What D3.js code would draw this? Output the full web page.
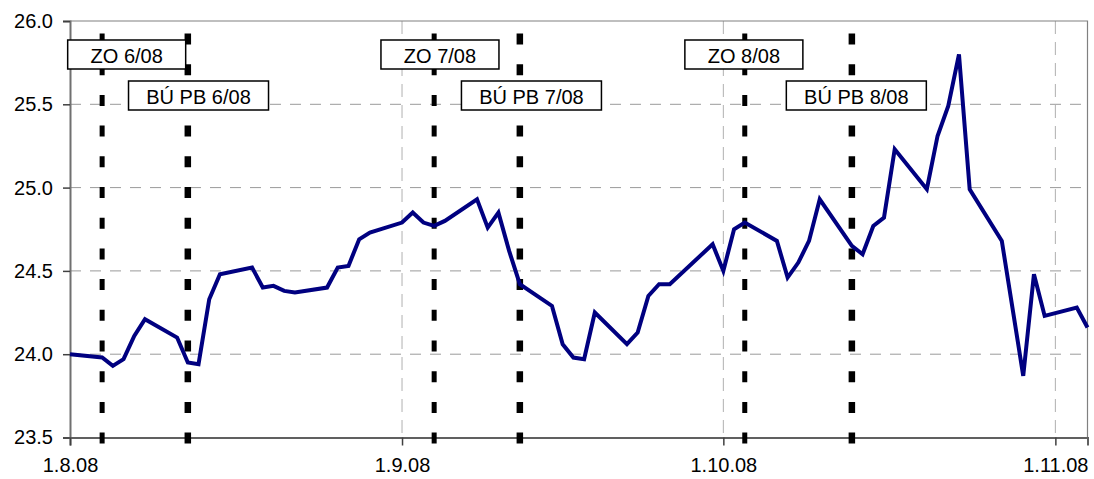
<!DOCTYPE html>
<html>
<head>
<meta charset="utf-8">
<script src="https://cdn.jsdelivr.net/npm/d3@7"></script>
<style>
  html, body { margin: 0; padding: 0; background: #fff; }
  svg { display: block; }
  text { font-family: "Liberation Sans", Arial, sans-serif; }
</style>
</head>
<body>
<svg id="chart" width="1094" height="479"></svg>
<script>
// ---- data ----
const dates = [
  "2008-08-01","2008-08-04","2008-08-05","2008-08-06","2008-08-07","2008-08-08",
  "2008-08-11","2008-08-12","2008-08-13","2008-08-14","2008-08-15",
  "2008-08-18","2008-08-19","2008-08-20","2008-08-21","2008-08-22",
  "2008-08-25","2008-08-26","2008-08-27","2008-08-28","2008-08-29",
  "2008-09-01","2008-09-02","2008-09-03","2008-09-04","2008-09-05",
  "2008-09-08","2008-09-09","2008-09-10","2008-09-11","2008-09-12",
  "2008-09-15","2008-09-16","2008-09-17","2008-09-18","2008-09-19",
  "2008-09-22","2008-09-23","2008-09-24","2008-09-25","2008-09-26",
  "2008-09-30","2008-10-01","2008-10-02","2008-10-03",
  "2008-10-06","2008-10-07","2008-10-08","2008-10-09","2008-10-10",
  "2008-10-13","2008-10-14","2008-10-15","2008-10-16","2008-10-17",
  "2008-10-20","2008-10-21","2008-10-22","2008-10-23","2008-10-24",
  "2008-10-27","2008-10-29","2008-10-30","2008-10-31",
  "2008-11-03","2008-11-04"
];
const values = [
  24.00, 23.98, 23.93, 23.97, 24.11, 24.21,
  24.10, 23.95, 23.94, 24.33, 24.48,
  24.52, 24.40, 24.41, 24.38, 24.37,
  24.40, 24.52, 24.53, 24.69, 24.73,
  24.79, 24.85, 24.79, 24.77, 24.80,
  24.93, 24.76, 24.85, 24.62, 24.42,
  24.29, 24.06, 23.98, 23.97, 24.25,
  24.06, 24.13, 24.35, 24.42, 24.42,
  24.66, 24.50, 24.75, 24.79,
  24.68, 24.46, 24.55, 24.68, 24.93,
  24.65, 24.60, 24.77, 24.82, 25.23,
  24.99, 25.31, 25.49, 25.80, 24.99,
  24.68, 23.87, 24.48, 24.23,
  24.28, 24.16
];
const eventDates  = ["2008-08-04","2008-08-12","2008-09-04","2008-09-12","2008-10-03","2008-10-13"];
const eventLabels = ["ZO 6/08","BÚ PB 6/08","ZO 7/08","BÚ PB 7/08","ZO 8/08","BÚ PB 8/08"];
// label box centres (dates, decimal day offset from 1.8.08)
const labelCenterDays = [5.3, 12.0, 34.56, 43.1, 62.9, 73.4];
const yTicks = [23.5, 24.0, 24.5, 25.0, 25.5, 26.0];
const xTickDates = ["2008-08-01","2008-09-01","2008-10-01","2008-11-01"];
const xTickLabels = ["1.8.08","1.9.08","1.10.08","1.11.08"];
const xDomain = ["2008-08-01","2008-11-04"];
const yDomain = [23.5, 26.0];

// ---- drawing ----
const parse = d3.timeParse("%Y-%m-%d");
const svg = d3.select("#chart");
const L = 70, R = 1087.5, T = 21, B = 437.5;

const x = d3.scaleTime().domain(xDomain.map(parse)).range([L, R]);
const y = d3.scaleLinear().domain(yDomain).range([B, T]);

const data = dates.map((d, i) => ({ date: parse(d), value: values[i] }));

// horizontal grid
svg.append("g").selectAll("line")
  .data(yTicks.filter(v => v > yDomain[0] && v < yDomain[1]))
  .join("line")
  .attr("x1", L).attr("x2", R)
  .attr("y1", d => y(d)).attr("y2", d => y(d))
  .attr("stroke", "#9a9a9a").attr("stroke-width", 1)
  .attr("stroke-dasharray", "11,9");

// vertical grid
svg.append("g").selectAll("line")
  .data(xTickDates.slice(1).map(parse))
  .join("line")
  .attr("x1", d => x(d)).attr("x2", d => x(d))
  .attr("y1", T).attr("y2", B)
  .attr("stroke", "#b0b0b0").attr("stroke-width", 1)
  .attr("stroke-dasharray", "13,8");

// top/right border
svg.append("path")
  .attr("d", `M${L},${T}H${R}V${B}`)
  .attr("fill", "none").attr("stroke", "#808080").attr("stroke-width", 1.2);

// y axis
const yAxis = d3.axisLeft(y).tickValues(yTicks).tickFormat(d3.format(".1f"))
  .tickSize(7).tickPadding(10);
const gy = svg.append("g").attr("transform", `translate(${L},0)`).call(yAxis);
gy.select(".domain").attr("stroke", "#707070").attr("stroke-width", 2);
gy.selectAll(".tick line").attr("stroke", "#404040").attr("stroke-width", 1.5);
gy.selectAll(".tick text").attr("font-size", 20).attr("fill", "#000")
  .attr("font-family", "'Liberation Sans', Arial, sans-serif");

// x axis
const xAxis = d3.axisBottom(x).tickValues(xTickDates.map(parse))
  .tickFormat((d, i) => xTickLabels[i]).tickSize(8).tickPadding(12);
const gx = svg.append("g").attr("transform", `translate(0,${B})`).call(xAxis);
gx.select(".domain").attr("stroke", "#606060").attr("stroke-width", 2);
gx.selectAll(".tick line").attr("stroke", "#404040").attr("stroke-width", 1.5);
gx.selectAll(".tick text").attr("font-size", 20).attr("fill", "#000")
  .attr("font-family", "'Liberation Sans', Arial, sans-serif");

// event lines
const evTop = y(25.925);
svg.append("g").selectAll("line")
  .data(eventDates.map(parse))
  .join("line")
  .attr("x1", d => x(d)).attr("x2", d => x(d))
  .attr("y1", evTop).attr("y2", B + 6)
  .attr("stroke", "#000")
  .attr("stroke-width", (d, i) => i % 2 === 0 ? 5 : 6.5)
  .attr("stroke-dasharray", "11,19.7");

// series line
svg.append("path")
  .datum(data)
  .attr("fill", "none")
  .attr("stroke", "#000080")
  .attr("stroke-width", 4)
  .attr("stroke-linejoin", "miter")
  .attr("d", d3.line().x(d => x(d.date)).y(d => y(d.value)));

// label boxes
const day0 = parse(xDomain[0]);
const lbl = svg.append("g").selectAll("g")
  .data(eventLabels)
  .join("g")
  .attr("transform", (d, i) => {
    const cx = x(d3.timeHour.offset(day0, Math.round(labelCenterDays[i] * 24)));
    const top = i % 2 === 0 ? T + 19 : T + 60;
    return `translate(${cx},${top})`;
  });
lbl.append("rect")
  .attr("x", (d, i) => i % 2 === 0 ? -59 : -70)
  .attr("width", (d, i) => i % 2 === 0 ? 118 : 140)
  .attr("y", 0).attr("height", 29)
  .attr("fill", "#fff").attr("stroke", "#000").attr("stroke-width", 1.5);
lbl.append("text")
  .attr("text-anchor", "middle")
  .attr("y", 22.5)
  .attr("font-size", 20)
  .attr("fill", "#000")
  .text(d => d);
</script>
</body>
</html>
